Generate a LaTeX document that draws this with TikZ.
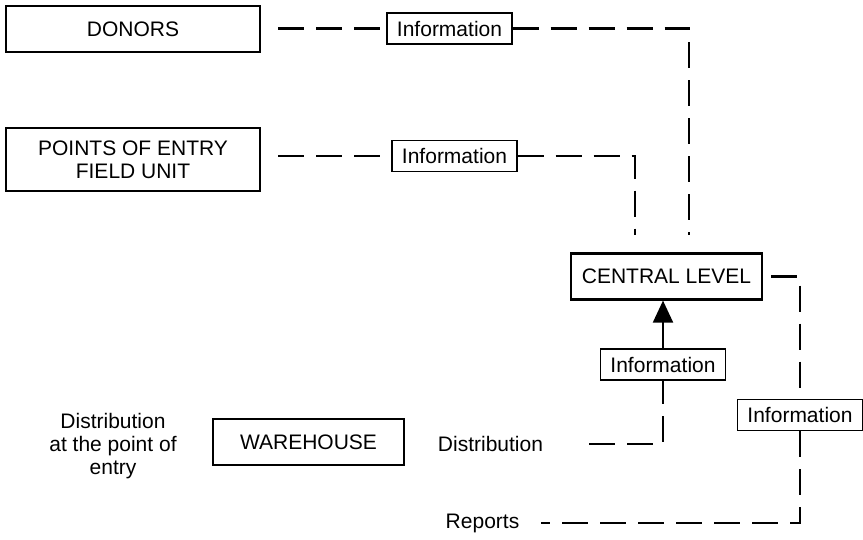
\documentclass[tikz,border=0pt]{standalone}
\usepackage{fontspec}
\setmainfont{Liberation Sans}
\usetikzlibrary{arrows.meta}

\begin{document}
\begin{tikzpicture}[x=1pt,y=-1pt,font=\fontsize{21}{23}\selectfont]
\tikzstyle{unit}=[draw, line width=2.2pt, fill=white, inner sep=0pt, minimum width=254pt, minimum height=46pt, align=center]
\tikzstyle{info}=[draw, line width=1.2pt, fill=white, inner xsep=10pt, inner ysep=0pt, minimum height=31pt]
\tikzstyle{note}=[inner sep=0pt, align=center]
\tikzstyle{flow}=[line width=2.3pt, dash pattern=on 26pt off 12pt]

\useasboundingbox (0,0) rectangle (863,540);

\node[unit] (D) at (133, 29) {DONORS};
\node[unit, minimum height=63pt] (P) at (133, 159.5) {POINTS OF ENTRY\\FIELD UNIT};
\node[unit, minimum width=191pt] (C) at (666.5, 276.5) {CENTRAL LEVEL};
\node[unit, minimum width=191pt] (W) at (308.5, 442) {WAREHOUSE};

\node[note] (E) at (113, 446) {Distribution\\at the point of\\entry};
\node[note] (dist) at (490.5, 444) {Distribution};
\node[note] (rep) at (482.5, 523) {Reports};

\node[info] (iD) at (449.5, 28.5) {Information};
\node[info] (iP) at (454.5, 156) {Information};
\node[info] (iC) at (663, 364.5) {Information};
\node[info] (iR) at (800, 415) {Information};

\draw[flow, shorten <=17pt] (D.east |- iD) -- (iD);
\draw[flow, shorten >=17pt] (iD) -| ([xshift=22.5pt]C.north);
\draw[flow, shorten <=17pt] (P.east |- iP) -- (iP);
\draw[flow, shorten >=17pt] (iP) -| ([xshift=-31.5pt]C.north);
\draw[flow, shorten <=8pt] (C) -| (iR);
\draw[flow, shorten >=22pt] (iR) |- (rep);
\draw[flow, shorten <=46pt] (dist) -| (iC);
\draw[-{Triangle[width=20pt,length=22pt]}, line width=2pt] (iC) -- (iC |- C.south);
\end{tikzpicture}
\end{document}
